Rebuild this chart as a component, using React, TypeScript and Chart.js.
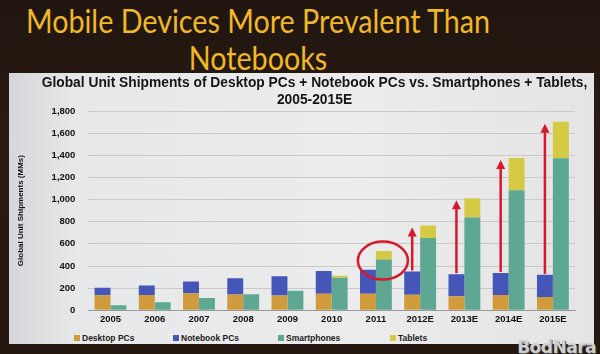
import React, { useEffect, useRef } from 'react';
import { Chart, registerables } from 'chart.js';

Chart.register(...registerables);

const categories = ['2005', '2006', '2007', '2008', '2009', '2010', '2011', '2012E', '2013E', '2014E', '2015E'];
const desktopPCs = [136, 139, 155, 143, 134, 150, 150, 141, 126, 138, 119];
const notebookPCs = [67, 85, 105, 147, 173, 205, 216, 209, 200, 200, 201];
const smartphones = [45, 73, 110, 146, 176, 295, 458, 652, 838, 1085, 1374];
const tablets = [0, 0, 0, 0, 0, 17, 77, 113, 174, 290, 329];
const seriesNames = ['Desktop PCs', 'Notebook PCs', 'Smartphones', 'Tablets'];
const seriesColors = ['#d09b3c', '#4556b8', '#5ea792', '#d4ca45'];
const arrowCategories = ['2012E', '2013E', '2014E', '2015E'];
const circledCategory = '2011';

const slideTitle = ['Mobile Devices More Prevalent Than', 'Notebooks'];
const chartTitle = ['Global Unit Shipments of Desktop PCs + Notebook PCs vs. Smartphones + Tablets,', '2005-2015E'];
const yAxisTitle = 'Global Unit Shipments (MMs)';

const FONT = '"Liberation Sans", Arial, sans-serif';
const RED = '#d8182b';

const annotatePlugin = {
  id: 'annotate',
  afterDatasetsDraw(chart: any) {
    const ctx = chart.ctx as CanvasRenderingContext2D;
    const nbMeta = chart.getDatasetMeta(1);
    const smMeta = chart.getDatasetMeta(2);
    const tbMeta = chart.getDatasetMeta(3);
    ctx.save();
    ctx.strokeStyle = RED;
    ctx.fillStyle = RED;
    ctx.lineWidth = 2.5;
    arrowCategories.forEach((c) => {
      const i = categories.indexOf(c);
      const nb = nbMeta.data[i];
      const tb = tbMeta.data[i];
      const x = nb.x;
      const yStart = nb.y - 1;
      const yTip = tb.y + 2;
      const head = 9;
      ctx.beginPath();
      ctx.moveTo(x, yStart);
      ctx.lineTo(x, yTip + head - 1);
      ctx.stroke();
      ctx.beginPath();
      ctx.moveTo(x, yTip);
      ctx.lineTo(x - 4.5, yTip + head);
      ctx.lineTo(x + 4.5, yTip + head);
      ctx.closePath();
      ctx.fill();
    });
    const ci = categories.indexOf(circledCategory);
    const sm = smMeta.data[ci];
    ctx.beginPath();
    ctx.ellipse(sm.x - 1, sm.y + 1, 25, 19, 0, 0, Math.PI * 2);
    ctx.stroke();
    ctx.restore();
  },
};

export default function App() {
  const canvasRef = useRef<HTMLCanvasElement | null>(null);

  useEffect(() => {
    if (!canvasRef.current) return;
    const values = [desktopPCs, notebookPCs, smartphones, tablets];
    const stacks = ['pc', 'pc', 'mobile', 'mobile'];
    const chart = new Chart(canvasRef.current, {
      type: 'bar',
      data: {
        labels: categories,
        datasets: seriesNames.map((name, k) => ({
          label: name,
          data: values[k],
          backgroundColor: seriesColors[k],
          stack: stacks[k],
          borderWidth: 0,
          barPercentage: 1.0,
          categoryPercentage: 0.72,
        })),
      },
      options: {
        animation: false,
        responsive: false,
        layout: { padding: { left: 7, right: 19, top: 38, bottom: 0 } },
        plugins: {
          legend: { display: false },
          tooltip: { enabled: false },
          title: { display: false },
        },
        scales: {
          x: {
            stacked: true,
            grid: { display: false, drawTicks: false },
            border: { color: '#9a9a9a' },
            ticks: { color: '#111', font: { family: FONT, size: 9.5, weight: 'bold' }, padding: 3 },
          },
          y: {
            stacked: true,
            min: 0,
            max: 1800,
            grid: { color: '#c9c9c9', drawTicks: false },
            border: { display: false },
            ticks: {
              stepSize: 200,
              color: '#111',
              padding: 13,
              font: { family: FONT, size: 9.5, weight: 'bold' },
              callback: (v: any) => Number(v).toLocaleString('en-US'),
            },
            title: {
              display: true,
              text: yAxisTitle,
              color: '#111',
              font: { family: FONT, size: 8, weight: 'bold' },
              padding: { top: 0, bottom: 13 },
            },
          },
        },
      },
      plugins: [annotatePlugin],
    });
    return () => chart.destroy();
  }, []);

  return (
    <div
      style={{
        position: 'fixed',
        left: 0,
        top: 0,
        width: 600,
        height: 354,
        overflow: 'hidden',
        background: 'linear-gradient(180deg, #20150f 0%, #2a1c14 40%, #241810 100%)',
      }}
    >
      {slideTitle.map((line, k) => (
        <div
          key={k}
          style={{
            position: 'absolute',
            left: -42,
            width: 600,
            top: k === 0 ? 0 : 37,
            textAlign: 'center',
            fontFamily: 'Lato, "Open Sans", sans-serif',
            fontSize: 33,
            lineHeight: '40px',
            color: '#f1b823',
            whiteSpace: 'nowrap',
            transform: 'scaleX(0.87)',
            transformOrigin: '300px 50%',
          }}
        >
          {line}
        </div>
      ))}
      <div
        style={{
          position: 'absolute',
          left: 9,
          top: 73,
          width: 585,
          height: 271,
          background: 'linear-gradient(90deg, #d6d7da 0%, #e7e8ea 12%, #ececec 60%, #e4e4e4 100%)',
        }}
      >
        <canvas ref={canvasRef} width={585} height={256} style={{ display: 'block' }} />
        {chartTitle.map((line, k) => (
          <div
            key={line}
            style={{
              position: 'absolute',
              left: 5.5,
              width: 600,
              top: k === 0 ? 2 : 19,
              textAlign: 'center',
              fontFamily: FONT,
              fontSize: 13.8,
              fontWeight: 'bold',
              lineHeight: '16px',
              color: '#151515',
              whiteSpace: 'nowrap',
            }}
          >
            {line}
          </div>
        ))}
        <div
          style={{
            position: 'absolute',
            top: 259,
            left: 0,
            width: 585,
            height: 12,
            fontFamily: FONT,
            fontSize: 8.5,
            fontWeight: 'bold',
            color: '#222',
          }}
        >
          {seriesNames.map((name, k) => (
            <div
              key={name}
              style={{
                position: 'absolute',
                left: [65, 164, 269, 381][k],
                top: 1,
                display: 'flex',
                alignItems: 'center',
                whiteSpace: 'nowrap',
              }}
            >
              <span style={{ display: 'inline-block', width: 6, height: 6, background: seriesColors[k], marginRight: 2 }} />
              {name}
            </div>
          ))}
        </div>
      </div>
      <div
        style={{
          position: 'absolute',
          right: 4,
          bottom: -3,
          fontFamily: '"DejaVu Sans", sans-serif',
          fontWeight: 'bold',
          fontSize: 17,
          color: '#cfcfcf',
          textShadow: '1px 1px 0 #555',
          letterSpacing: -0.5,
        }}
      >
        BodNara
      </div>
    </div>
  );
}
